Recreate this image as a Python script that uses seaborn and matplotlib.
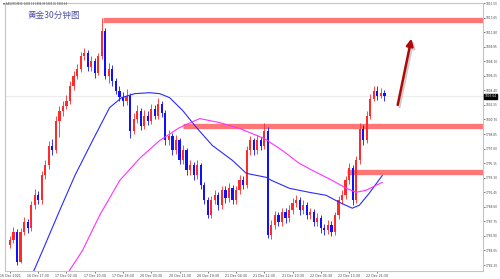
import matplotlib
matplotlib.use("Agg")
import matplotlib.pyplot as plt
import matplotlib.transforms as mtransforms
import seaborn as sns
import numpy as np
import pandas as pd

# ---------------- data ----------------
first_open = 1784.8
closes = [1785.37, 1786.38, 1782.58, 1786.38, 1787.64, 1786.88, 1789.80, 1791.06, 1790.43, 1793.59,
          1794.86, 1797.39, 1796.76, 1800.56, 1801.83, 1802.46, 1803.09, 1804.99, 1806.26, 1807.14,
          1808.79, 1809.17, 1807.40, 1808.16, 1806.64, 1808.79, 1811.95, 1806.26, 1807.14, 1805.62,
          1804.36, 1803.60, 1803.09, 1803.72, 1799.29, 1800.81, 1801.83, 1799.93, 1801.19, 1800.56,
          1802.08, 1801.19, 1802.71, 1801.57, 1798.03, 1798.66, 1796.76, 1798.03, 1795.49, 1796.76,
          1794.23, 1794.86, 1793.59, 1794.86, 1792.33, 1790.43, 1788.53, 1790.43, 1791.06, 1789.80,
          1791.70, 1790.68, 1791.95, 1790.43, 1791.70, 1792.96, 1792.33, 1796.76, 1798.03, 1796.76,
          1798.03, 1797.39, 1799.29, 1786.00, 1787.26, 1788.53, 1787.64, 1788.91, 1788.15, 1789.16,
          1790.05, 1790.43, 1789.16, 1789.80, 1788.53, 1788.91, 1787.64, 1788.15, 1786.88, 1786.63,
          1787.26, 1786.38, 1788.53, 1790.43, 1791.06, 1792.96, 1794.48, 1790.43, 1795.49, 1799.55,
          1798.03, 1801.19, 1803.34, 1804.36, 1803.72, 1804.10, 1803.64]
highs = [1785.9, 1787.0, 1786.8, 1786.9, 1788.3, 1788.0, 1790.3, 1791.8, 1791.6, 1794.2,
         1795.5, 1797.9, 1798.2, 1801.1, 1802.4, 1803.0, 1803.8, 1805.6, 1806.9, 1807.8,
         1809.3, 1809.8, 1809.5, 1808.8, 1808.5, 1809.2, 1813.6, 1812.3, 1807.9, 1807.6,
         1806.0, 1804.9, 1804.2, 1804.6, 1804.1, 1801.5, 1802.5, 1802.2, 1801.9, 1801.8,
         1802.7, 1802.6, 1803.4, 1803.1, 1801.9, 1799.3, 1799.0, 1798.7, 1798.4, 1797.4,
         1797.1, 1795.5, 1795.3, 1795.5, 1795.2, 1792.8, 1790.9, 1791.0, 1791.7, 1791.5,
         1792.3, 1792.2, 1792.6, 1792.4, 1792.3, 1793.6, 1793.5, 1797.3, 1798.6, 1798.4,
         1798.7, 1798.5, 1800.3, 1799.7, 1787.9, 1789.1, 1789.0, 1789.5, 1789.4, 1789.8,
         1790.7, 1791.1, 1790.9, 1790.4, 1790.2, 1789.5, 1789.3, 1788.8, 1788.6, 1787.4,
         1787.9, 1787.8, 1789.0, 1791.0, 1791.7, 1793.5, 1795.2, 1794.9, 1796.1, 1800.2,
         1800.0, 1801.8, 1803.9, 1805.0, 1804.9, 1804.7, 1804.4]
lows = [1784.3, 1785.0, 1782.2, 1782.4, 1786.0, 1786.3, 1786.5, 1789.3, 1789.9, 1790.0,
        1793.1, 1794.4, 1796.2, 1796.4, 1798.5, 1801.2, 1802.0, 1802.7, 1804.5, 1805.8,
        1806.7, 1808.2, 1806.9, 1806.9, 1806.0, 1806.3, 1808.4, 1805.8, 1805.3, 1805.0,
        1803.9, 1803.0, 1802.4, 1802.6, 1798.4, 1798.8, 1800.3, 1799.3, 1799.5, 1800.0,
        1800.1, 1800.7, 1800.8, 1801.0, 1797.5, 1797.5, 1796.2, 1796.3, 1795.0, 1795.0,
        1793.7, 1793.7, 1793.0, 1793.1, 1791.8, 1789.9, 1788.2, 1788.2, 1789.9, 1789.2,
        1789.3, 1790.1, 1790.2, 1789.9, 1790.0, 1791.2, 1791.8, 1792.0, 1796.2, 1796.2,
        1796.3, 1796.8, 1797.0, 1785.6, 1785.5, 1786.8, 1787.1, 1787.2, 1787.6, 1787.7,
        1788.7, 1789.6, 1788.6, 1788.7, 1788.0, 1788.0, 1787.1, 1787.1, 1786.3, 1786.0,
        1786.1, 1785.9, 1786.0, 1788.1, 1790.0, 1790.6, 1792.5, 1789.8, 1790.1, 1795.1,
        1797.5, 1797.7, 1800.8, 1803.0, 1803.2, 1803.4, 1803.1]

time_labels = ["16 Dec 2021", "16 Dec 17:30", "17 Dec 02:30", "17 Dec 10:30", "17 Dec 18:30",
               "20 Dec 03:30", "20 Dec 11:30", "20 Dec 19:30", "21 Dec 04:30", "21 Dec 12:30",
               "21 Dec 20:30", "22 Dec 05:30", "22 Dec 13:30", "22 Dec 21:30"]
label_every = 8

price_ticks = [1782.20, 1784.05, 1785.90, 1787.75, 1789.60, 1791.45, 1793.30, 1795.15, 1797.00,
               1798.85, 1800.70, 1802.55, 1804.40, 1806.25, 1808.10, 1809.95, 1811.80, 1813.65, 1815.50]

# moving averages (read at sample bars)
ma_fast_x = [6.5, 9.3, 14.1, 18.4, 23.4, 28.2, 31.6, 35.3, 39.5, 42.4, 45.2, 48.9, 52.8, 57.3,
             63.0, 66.9, 72.6, 74.0, 79.1, 84.7, 89.5, 93.2, 96.9, 98.9, 101.7, 105.4]
ma_fast_y = [1781.19, 1784.10, 1789.16, 1793.59, 1798.03, 1802.20, 1803.47, 1803.98, 1804.10,
             1803.98, 1803.47, 1801.83, 1799.67, 1797.39, 1795.49, 1793.85, 1793.34, 1792.96,
             1791.95, 1791.44, 1791.06, 1790.18, 1789.42, 1789.80, 1791.32, 1793.59]
ma_slow_x = [16.4, 20.6, 25.4, 31.1, 36.7, 42.4, 48.0, 53.7, 59.3, 65.0, 72.0, 77.1, 81.9, 85.6,
             91.2, 95.2, 98.0, 100.8, 105.4]
ma_slow_y = [1781.19, 1784.10, 1788.53, 1792.96, 1795.75, 1798.03, 1799.67, 1800.81, 1800.31,
             1799.55, 1798.28, 1796.76, 1795.12, 1794.23, 1792.96, 1791.95, 1791.44, 1791.70, 1792.71]

zone_levels = [1813.40, 1799.87, 1794.03]
zone_starts = [26.3, 48.9, 95.5]

arrow_tail = (109.6, 1802.20)
arrow_head = (113.8, 1811.32)

header = "XAUUSD,M30  1803.14 1804.09 1803.05 1803.64"
title = "黄金30分钟图"

# ---------------- drawing ----------------
sns.set_style("white")
plt.rcParams['font.family'] = ['DejaVu Sans']

n = len(closes)
idx = np.arange(n)
opens = np.array([first_open] + closes[:-1])
closes_a = np.array(closes)
up = closes_a >= opens

fig = plt.figure(figsize=(5, 2.79), dpi=100)
fig.patch.set_facecolor("white")
ax = fig.add_axes([0.01, 0.0287, 0.956, 0.9605])
ax.set_facecolor("white")

xmin, xmax = -1.4, 133.9
ax.set_xlim(xmin, xmax)
ax.set_ylim(1781.44, 1815.37)

# current price line
last = closes[-1]
ax.axhline(last, color="#ececec", lw=0.8, zorder=0)

# zones
for lvl, st in zip(zone_levels, zone_starts):
    ax.hlines(lvl, st, xmax, color="#ff7676", lw=3.8, zorder=1)

# candles
up_col, dn_col = "#ff2a2a", "#1010ff"
cols = np.where(up, up_col, dn_col)
ax.vlines(idx, lows, highs, colors=cols, lw=0.6, zorder=2)
body_bottom = np.minimum(opens, closes_a)
body_h = np.maximum(np.abs(closes_a - opens), 0.08)
ax.bar(idx, body_h, bottom=body_bottom, width=0.62, color=cols, linewidth=0, zorder=3)

# moving averages
sns.lineplot(x=ma_fast_x, y=ma_fast_y, ax=ax, color="#2a2aff", lw=0.8, zorder=4, sort=False)
sns.lineplot(x=ma_slow_x, y=ma_slow_y, ax=ax, color="#ff30ff", lw=0.8, zorder=4, sort=False)

# arrow with shadow
ax.annotate("", xy=(arrow_head[0] + 0.5, arrow_head[1] - 0.25),
            xytext=(arrow_tail[0] + 0.5, arrow_tail[1] - 0.25),
            arrowprops=dict(arrowstyle="-|>", color="#cfcfcf", lw=1.8, mutation_scale=10), zorder=4)
ax.annotate("", xy=arrow_head, xytext=arrow_tail,
            arrowprops=dict(arrowstyle="-|>", color="#b00808", lw=1.8, mutation_scale=10), zorder=5)

# axes styling
for s in ax.spines.values():
    s.set_color("#c4c4c4")
    s.set_linewidth(0.8)
ax.yaxis.tick_right()
ax.set_yticks(price_ticks)
ax.set_yticklabels([f"{v:.2f}" for v in price_ticks])
ax.set_xticks(idx[::label_every][:len(time_labels)])
ax.set_xticklabels(time_labels)
ax.tick_params(axis="y", labelsize=2.1, colors="#444444", length=1.2, width=0.5, pad=0.8, right=True)
ax.tick_params(axis="x", labelsize=2.3, colors="#444444", length=1.5, width=0.5, pad=1.0, bottom=True)
ax.set_xlabel("")
ax.set_ylabel("")
ax.grid(False)

# current price box on the axis
trans = mtransforms.blended_transform_factory(ax.transAxes, ax.transData)
ax.text(1.003, last, f"{last:.2f}", transform=trans, fontsize=2.1, color="white",
        va="center", ha="left",
        bbox=dict(boxstyle="square,pad=0.2", fc="black", ec="black"), zorder=6, clip_on=False)

# header texts
fig.text(0.006, 0.987, "▼ " + header, fontsize=1.8, color="#444444", va="center", ha="left",
         family=["DejaVu Sans"])
fig.text(0.056, 0.944, title, fontsize=6.2, color="#5252a6", va="center", ha="left",
         family=["Noto Sans CJK SC", "DejaVu Sans"])

fig.savefig("out.png", dpi=100, facecolor="white")
